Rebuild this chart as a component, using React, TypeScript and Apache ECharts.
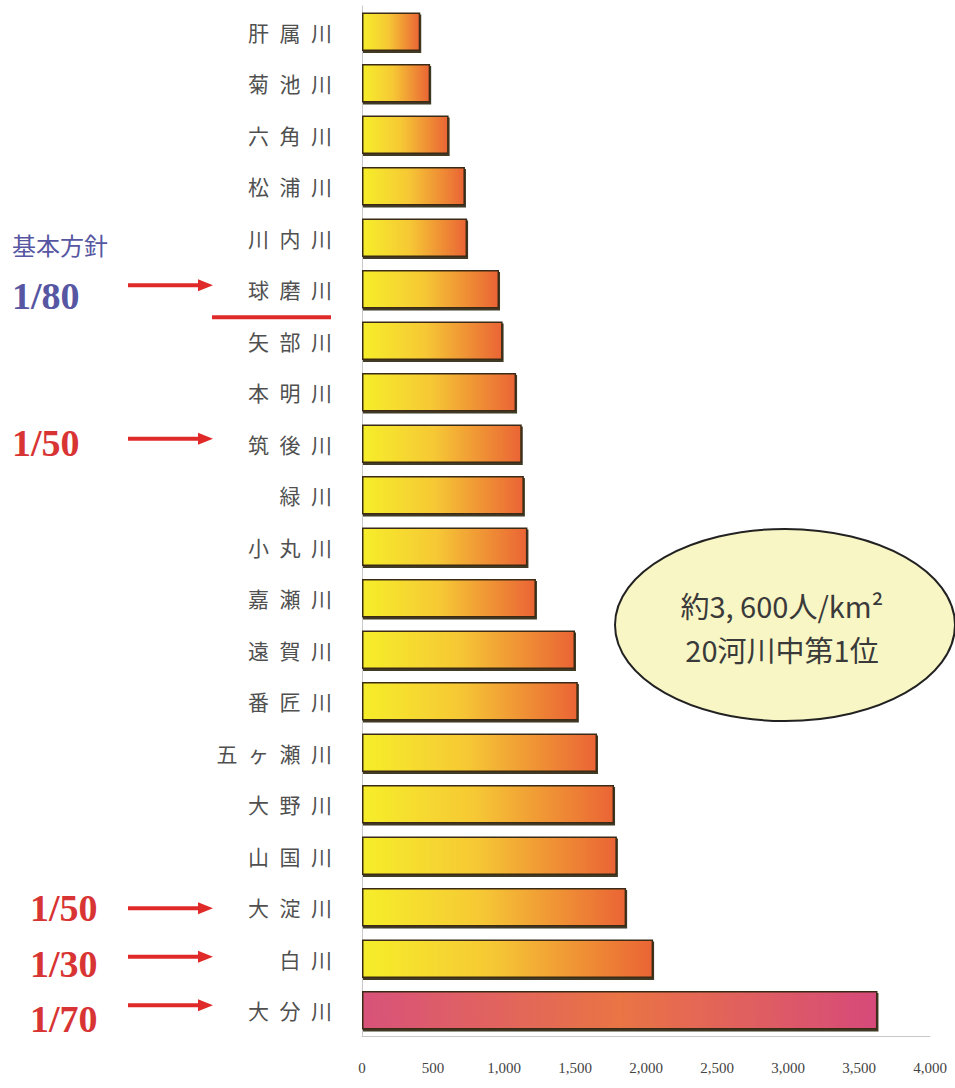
import React, { useEffect, useRef } from "react";
import * as echarts from "echarts";

const rivers = [
  "肝属川", "菊池川", "六角川", "松浦川", "川内川", "球磨川", "矢部川", "本明川", "筑後川", "緑川",
  "小丸川", "嘉瀬川", "遠賀川", "番匠川", "五ヶ瀬川", "大野川", "山国川", "大淀川", "白川", "大分川",
];
const density = [
  410, 480, 610, 725, 740, 965, 990, 1085, 1125, 1140,
  1165, 1225, 1500, 1520, 1655, 1775, 1795, 1860, 2050, 3630,
];
const xTicks = [0, 500, 1000, 1500, 2000, 2500, 3000, 3500, 4000];
const highlightRiver = "大分川";

const annotationTexts = ["1/80", "1/50", "1/50", "1/30", "1/70"];
const annotationRivers = ["球磨川", "筑後川", "大淀川", "白川", "大分川"];

export default function App() {
  const ref = useRef<HTMLDivElement>(null);
  useEffect(() => {
    if (!ref.current) return;
    const chart = echarts.init(ref.current, null, { renderer: "svg" });

    const normalGrad = new echarts.graphic.LinearGradient(0, 0, 1, 0, [
      { offset: 0, color: "#f6ee2a" },
      { offset: 0.45, color: "#f6c834" },
      { offset: 1, color: "#ea6436" },
    ]);
    const hiGrad = new echarts.graphic.LinearGradient(0, 0, 1, 0, [
      { offset: 0, color: "#d8527a" },
      { offset: 0.5, color: "#ea7444" },
      { offset: 1, color: "#d64a7a" },
    ]);

    const data = rivers.map((r, i) => ({
      value: density[i],
      itemStyle: { color: r === highlightRiver ? hiGrad : normalGrad },
    }));

    const gridTop = 6;
    const gridBottom = 1036;
    const band = (gridBottom - gridTop) / rivers.length;
    const rowY = (name: string) => gridTop + band * (rivers.indexOf(name) + 0.5);

    const annXs = [12, 12, 30, 30, 30];
    const annColors = ["#5656a2", "#d83434", "#d83434", "#d83434", "#d83434"];
    const textDy = [-12, -20, -18, -14, -10];
    const arrowDy = [-4, -5, 1, -2, -5];
    const graphics: any[] = [];
    annotationRivers.forEach((r, i) => {
      const y = rowY(r);
      graphics.push({
        type: "text",
        left: annXs[i],
        top: y + textDy[i],
        style: {
          text: annotationTexts[i],
          fill: annColors[i],
          font: "bold 38px 'Liberation Serif', 'DejaVu Serif', serif",
        },
      });
      const ay = y + arrowDy[i];
      graphics.push({
        type: "line",
        shape: { x1: 128, y1: ay, x2: 200, y2: ay },
        style: { stroke: "#e02a2a", lineWidth: 4 },
      });
      graphics.push({
        type: "polygon",
        shape: { points: [[198, ay - 6], [213, ay], [198, ay + 6]] },
        style: { fill: "#e02a2a" },
      });
    });
    graphics.push({
      type: "text",
      left: 12,
      top: 232,
      style: {
        text: "基本方針",
        fill: "#5656a2",
        font: "24px 'Noto Sans CJK JP', sans-serif",
      },
    });
    graphics.push({
      type: "rect",
      shape: { x: 212, y: rowY("球磨川") + 26, width: 119, height: 4 },
      style: { fill: "#e02a2a" },
    });
    graphics.push({
      type: "ellipse",
      shape: { cx: 785, cy: 625, rx: 170, ry: 96 },
      style: { fill: "#f8f6c4", stroke: "#222", lineWidth: 2 },
    });
    graphics.push({
      type: "text",
      x: 782,
      y: 627,
      style: {
        text: "約3, 600人/km²\n20河川中第1位",
        fill: "#3a3a3a",
        font: "29px 'Noto Sans CJK JP', sans-serif",
        align: "center",
        verticalAlign: "middle",
        lineHeight: 44,
      },
    });

    chart.setOption({
      animation: false,
      backgroundColor: "#ffffff",
      grid: { left: 362, right: 25, top: gridTop, bottom: 1088 - gridBottom, containLabel: false },
      xAxis: {
        type: "value",
        min: 0,
        max: 4000,
        interval: 500,
        axisLine: { show: true, lineStyle: { color: "#c8c8c8", width: 1 } },
        axisTick: { show: false },
        splitLine: { show: false },
        axisLabel: {
          margin: 24,
          color: "#444",
          fontSize: 15,
          fontFamily: "'Liberation Serif', serif",
          formatter: (v: number) => (xTicks.includes(v) ? v.toLocaleString("en-US") : ""),
        },
      },
      yAxis: {
        type: "category",
        inverse: true,
        data: rivers,
        axisLine: { show: true, lineStyle: { color: "#c8c8c8", width: 1 } },
        axisTick: { show: false },
        axisLabel: {
          margin: 30,
          color: "#505050",
          fontSize: 21,
          fontFamily: "'Noto Sans CJK JP', sans-serif",
          formatter: (v: string) => v.split("").join("\u2002"),
        },
      },
      series: [
        {
          type: "bar",
          data,
          barCategoryGap: "25%",
          itemStyle: {
            borderColor: "#3a2c14",
            borderWidth: 1.5,
            shadowColor: "rgba(30,20,0,0.85)",
            shadowOffsetX: 1,
            shadowOffsetY: 2,
            shadowBlur: 0,
          },
        },
      ],
      graphic: graphics,
    });
    return () => chart.dispose();
  }, []);
  return (
    <div
      ref={ref}
      style={{ position: "absolute", left: 0, top: 0, width: 955, height: 1088 }}
    />
  );
}
